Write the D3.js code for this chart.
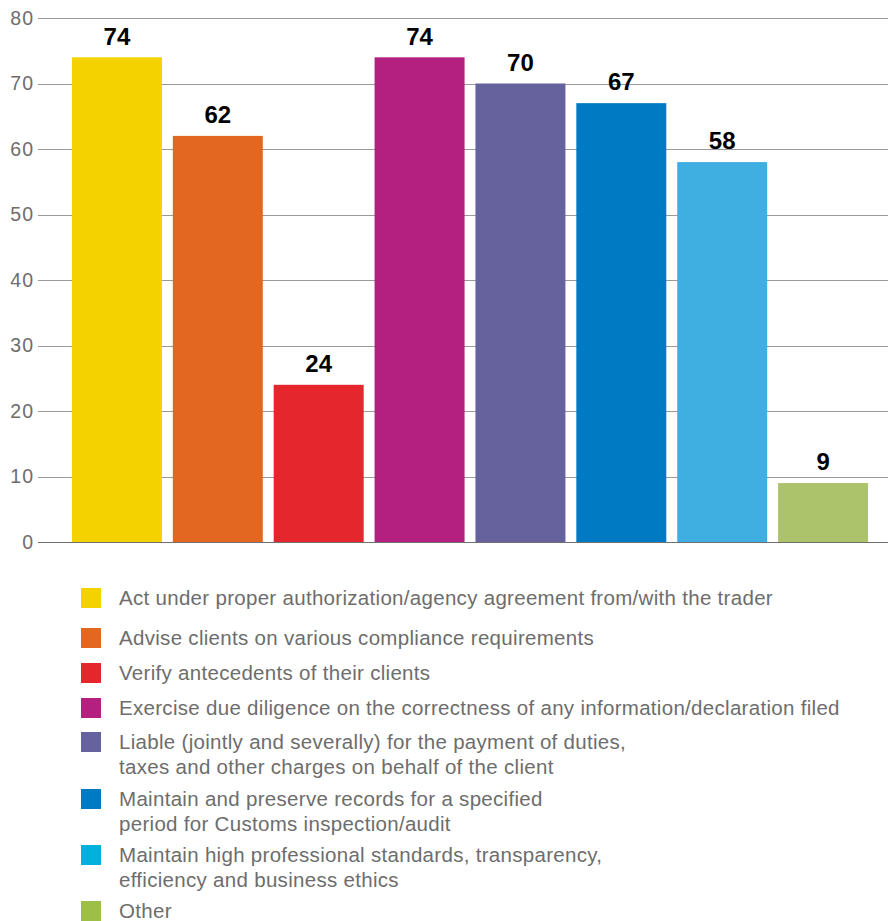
<!DOCTYPE html>
<html>
<head>
<meta charset="utf-8">
<script src="https://cdn.jsdelivr.net/npm/d3@7"></script>
<style>
  html, body { margin: 0; padding: 0; background: #fff; }
  svg { display: block; }
</style>
</head>
<body>
<svg id="chart" width="888" height="921"></svg>
<script>
const categories = [
  "Act under proper authorization/agency agreement from/with the trader",
  "Advise clients on various compliance requirements",
  "Verify antecedents of their clients",
  "Exercise due diligence on the correctness of any information/declaration filed",
  "Liable (jointly and severally) for the payment of duties,|taxes and other charges on behalf of the client",
  "Maintain and preserve records for a specified|period for Customs inspection/audit",
  "Maintain high professional standards, transparency,|efficiency and business ethics",
  "Other"
];
const values = [74, 62, 24, 74, 70, 67, 58, 9];
const barColors = ["#F4D200", "#E36720", "#E5272D", "#B4207F", "#65629D", "#007BC3", "#3FAEE0", "#ADC36B"];
const legendColors = ["#F4D200", "#E36720", "#E5272D", "#B4207F", "#65629D", "#007BC3", "#00B1DB", "#9DBF48"];
const yTicks = [0, 10, 20, 30, 40, 50, 60, 70, 80];

const svg = d3.select("#chart");
const font = "'Liberation Sans', Arial, sans-serif";

const y = d3.scaleLinear().domain([0, 80]).range([542, 18]);
const x = d3.scaleBand()
  .domain(d3.range(categories.length))
  .range([66.5, 873.5])
  .paddingInner(0.108)
  .paddingOuter(0.054);

// gridlines
svg.append("g").selectAll("line")
  .data(yTicks.filter(t => t > 0))
  .join("line")
  .attr("x1", 38).attr("x2", 888)
  .attr("y1", d => Math.round(y(d)) + 0.5)
  .attr("y2", d => Math.round(y(d)) + 0.5)
  .attr("stroke", "#9a9a9a")
  .attr("stroke-width", 1);

// y tick labels
svg.append("g").selectAll("text")
  .data(yTicks)
  .join("text")
  .attr("x", 34)
  .attr("y", d => y(d))
  .attr("dy", "0.35em")
  .attr("text-anchor", "end")
  .attr("font-family", font)
  .attr("font-size", 19.5)
  .attr("letter-spacing", 1)
  .attr("fill", "#6d6d6d")
  .text(d => d);

// bars
svg.append("g").selectAll("rect")
  .data(values)
  .join("rect")
  .attr("x", (d, i) => x(i))
  .attr("width", x.bandwidth())
  .attr("y", d => y(d))
  .attr("height", d => y(0) - y(d))
  .attr("fill", (d, i) => barColors[i]);

// baseline
svg.append("line")
  .attr("x1", 38).attr("x2", 888)
  .attr("y1", Math.round(y(0)) + 0.5).attr("y2", Math.round(y(0)) + 0.5)
  .attr("stroke", "#707070")
  .attr("stroke-width", 1.2);

// value labels
svg.append("g").selectAll("text")
  .data(values)
  .join("text")
  .attr("x", (d, i) => x(i) + x.bandwidth() / 2)
  .attr("y", d => y(d) - 12.7)
  .attr("text-anchor", "middle")
  .attr("font-family", font)
  .attr("font-weight", "bold")
  .attr("font-size", 24)
  .attr("fill", "#000")
  .text(d => d);

// legend
const legendTops = [588, 628, 663, 698, 732, 789, 845, 901];
const legend = svg.append("g");
categories.forEach((c, i) => {
  const g = legend.append("g").attr("transform", `translate(81,${legendTops[i]})`);
  g.append("rect").attr("width", 20).attr("height", 20).attr("fill", legendColors[i]);
  const t = g.append("text")
    .attr("x", 38)
    .attr("y", 16.5)
    .attr("font-family", font)
    .attr("font-size", 20.5)
    .attr("letter-spacing", 0.3)
    .attr("fill", "#6d6d6d");
  c.split("|").forEach((line, j) => {
    t.append("tspan").attr("x", 38).attr("dy", j === 0 ? 0 : 25.5).text(line);
  });
});
</script>
</body>
</html>
